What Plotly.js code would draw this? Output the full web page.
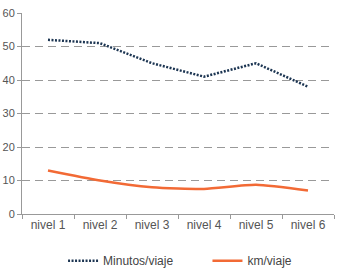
<!DOCTYPE html>
<html>
<head>
<meta charset="utf-8">
<script src="https://cdn.plot.ly/plotly-3.0.1.min.js"></script>
<style>
  html, body { margin: 0; padding: 0; background: #fff; }
  #chart { width: 339px; height: 269px; }
</style>
</head>
<body>
<div id="chart"></div>
<script>
// Trip duration and distance by level
const niveles = ["nivel 1", "nivel 2", "nivel 3", "nivel 4", "nivel 5", "nivel 6"];
const minutosViaje = [52, 51, 45, 41, 45, 38];
const kmViaje = [13, 10, 8, 7.5, 8.7, 7];
const yTicks = [0, 10, 20, 30, 40, 50, 60];

const traces = [
  {
    x: niveles, y: minutosViaje, name: "Minutos/viaje", type: "scatter", mode: "lines",
    line: { color: "#1c3552", width: 2.5, dash: "2px,1.5px" }, legend: "legend"
  },
  {
    x: niveles, y: kmViaje, name: "km/viaje", type: "scatter", mode: "lines",
    line: { color: "#f26a35", width: 2.5, shape: "spline", smoothing: 0.6 }, legend: "legend2"
  }
];

const legendBase = {
  orientation: "h", xanchor: "left", xref: "container",
  y: -0.232, yanchor: "middle", yref: "paper",
  itemwidth: 30, font: { size: 12, color: "#444" }, bgcolor: "rgba(0,0,0,0)"
};

const layout = {
  width: 339, height: 269,
  margin: { l: 22, r: 5, t: 13, b: 55, autoexpand: false },
  paper_bgcolor: "#fff", plot_bgcolor: "#fff",
  font: { family: "Liberation Sans, Arial, sans-serif", size: 12, color: "#555" },
  showlegend: true,
  legend: Object.assign({}, legendBase, { x: 0.186 }),
  legend2: Object.assign({}, legendBase, { x: 0.612 }),
  xaxis: {
    type: "category", range: [-0.5, 5.5], showgrid: false, zeroline: false,
    showline: true, linecolor: "#999", linewidth: 1,
    ticks: "outside", tickson: "boundaries", ticklen: 4, tickcolor: "#999",
    tickfont: { size: 12, color: "#555" }, fixedrange: true
  },
  yaxis: {
    range: [0, 60], tickvals: yTicks, zeroline: false,
    showgrid: true, gridcolor: "#999", griddash: "8px,5px", gridwidth: 1,
    showline: true, linecolor: "#999", linewidth: 1,
    ticks: "outside", ticklen: 4, tickcolor: "#999",
    tickfont: { size: 11, color: "#555" }, fixedrange: true
  }
};

Plotly.newPlot("chart", traces, layout, { displayModeBar: false, staticPlot: true });
</script>
</body>
</html>
